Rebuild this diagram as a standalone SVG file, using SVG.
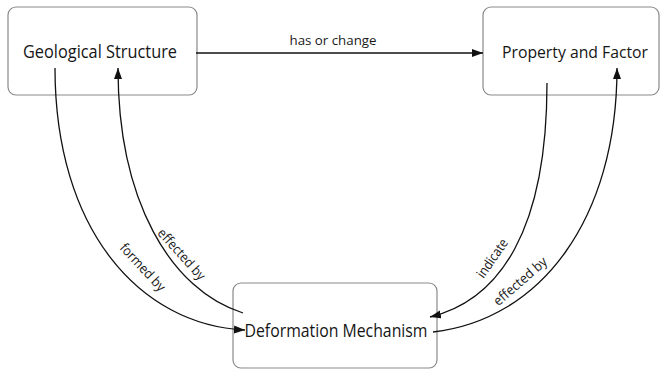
<svg xmlns="http://www.w3.org/2000/svg" width="662" height="374" viewBox="0 0 662 374">
<style>
.box{fill:#fff;stroke:#8a8a8a;stroke-width:1.2}
.nt{font-family:"Open Sans","Liberation Sans",sans-serif;font-size:17.5px;fill:#151515;text-anchor:middle}
.lt{font-family:"Open Sans","Liberation Sans",sans-serif;font-size:13.5px;fill:#1a1a1a;text-anchor:middle;dominant-baseline:central}
.c{fill:none;stroke:#111;stroke-width:1.3}
</style>
<defs>
<marker id="ah" markerUnits="userSpaceOnUse" markerWidth="12" markerHeight="10" refX="11" refY="4" orient="auto">
<path d="M0,0 L11,4 L0,8 Z" fill="#111"/>
</marker>
</defs>
<rect width="662" height="374" fill="#fff"/>
<g id="geological-structure">
<rect class="box" x="8" y="7" width="189" height="88" rx="8"/>
<text class="nt" x="100" y="58" textLength="154" lengthAdjust="spacingAndGlyphs">Geological Structure</text>
</g>
<g id="property-and-factor">
<rect class="box" x="483" y="7" width="176" height="88" rx="8"/>
<text class="nt" x="575" y="58" textLength="146" lengthAdjust="spacingAndGlyphs" style="font-size:17px">Property and Factor</text>
</g>
<g id="deformation-mechanism">
<rect class="box" x="233" y="283" width="204" height="85" rx="8"/>
<text class="nt" x="336" y="337" textLength="183" lengthAdjust="spacingAndGlyphs">Deformation Mechanism</text>
</g>
<g id="connectors">
<path class="c" d="M196,53 L483,53" marker-end="url(#ah)"/>
<path class="c" d="M55,68 C55,230 140,325 245,330" marker-end="url(#ah)"/>
<path class="c" d="M243,313 C170,290 118,200 118,68" marker-end="url(#ah)"/>
<path class="c" d="M547,83 C547,230 500,300 430,317" marker-end="url(#ah)"/>
<path class="c" d="M433,332 C540,320 617,220 617,68" marker-end="url(#ah)"/>
<text class="lt" x="333" y="40" textLength="87" lengthAdjust="spacingAndGlyphs">has or change</text>
<text class="lt" transform="translate(143,267) rotate(47)" textLength="60" lengthAdjust="spacingAndGlyphs">formed by</text>
<text class="lt" transform="translate(182,254) rotate(48)" textLength="64" lengthAdjust="spacingAndGlyphs">effected by</text>
<text class="lt" transform="translate(492,258) rotate(-55)" textLength="44" lengthAdjust="spacingAndGlyphs">indicate</text>
<text class="lt" transform="translate(520,281) rotate(-41)" textLength="66" lengthAdjust="spacingAndGlyphs">effected by</text>
</g>
</svg>
